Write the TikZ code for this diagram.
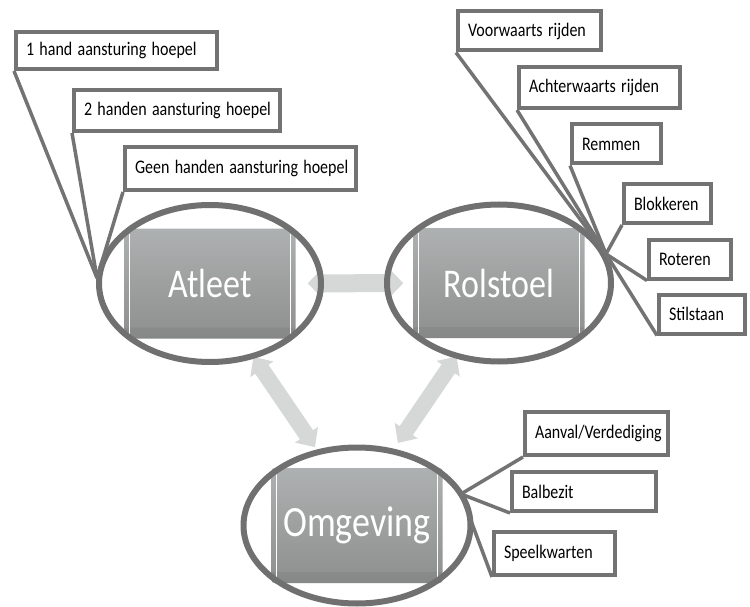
\documentclass[tikz,border=0pt]{standalone}
\usepackage{fontspec}
\usepackage{graphicx}
\setmainfont{Carlito}
\usetikzlibrary{arrows.meta,shapes.geometric}
\definecolor{ringgray}{RGB}{112,112,112}
\definecolor{boxgray}{RGB}{115,115,115}
\definecolor{keytop}{RGB}{174,177,177}
\definecolor{keybottom}{RGB}{142,143,143}
\definecolor{arrowgray}{RGB}{214,216,216}
\newcommand{\tall}[1]{\scalebox{1}[1.2]{#1}}

\begin{document}
\begin{tikzpicture}[x=1pt,y=-1pt,
  key/.style={rectangle,rounded corners=3pt,top color=keytop,bottom color=keybottom,minimum width=171pt,minimum height=110pt,text=white,font=\fontsize{34}{40}\selectfont,
    path picture={\fill[black,opacity=0.05] (path picture bounding box.south west) rectangle ([yshift=11pt]path picture bounding box.south east);
      \draw[white,line width=1.5pt] ([xshift=5pt,yshift=5pt]path picture bounding box.south west) -- ([xshift=5pt,yshift=-5pt]path picture bounding box.north west);
      \draw[white,line width=1.5pt] ([xshift=-5pt,yshift=5pt]path picture bounding box.south east) -- ([xshift=-5pt,yshift=-5pt]path picture bounding box.north east);}},
  ring/.style={ellipse,draw=ringgray,line width=6pt,inner sep=0pt},
  item/.style={rectangle,draw=boxgray,line width=4pt,fill=white,align=left,inner xsep=10pt,minimum height=39pt,font=\fontsize{16}{19}\selectfont},
  pointer/.style={draw=boxgray,line width=3.5pt},
  link/.style={draw=arrowgray,{Triangle[width=30pt,length=15pt]}-{Triangle[width=30pt,length=15pt]}}]
  \useasboundingbox (0,0) rectangle (750,607);

  % de drie hoofdblokken
  \node[key] (atleet) at (210,283.5) {\tall{Atleet}};
  \node[key] (rolstoel) at (499,283) {\tall{Rolstoel}};
  \node[key,minimum height=115pt,font=\fontsize{36}{42}\selectfont] (omgeving) at (357,525.5) {\tall{Omgeving}};

  % dubbele pijlen ertussen
  \draw[link,line width=18pt,shorten <=12pt,shorten >=10pt] (atleet) -- (rolstoel);
  \draw[link,line width=16pt,shorten <=22pt,shorten >=25pt,{Triangle[width=27pt,length=15pt]}-{Triangle[width=27pt,length=15pt]}] ([xshift=31pt]atleet.south) -- ([xshift=-28pt]omgeving.north);
  \draw[link,line width=16pt,shorten <=22pt,shorten >=30pt,{Triangle[width=27pt,length=15pt]}-{Triangle[width=27pt,length=15pt]}] ([xshift=-30pt]rolstoel.south) -- ([xshift=24pt]omgeving.north);

  \node[ring,minimum width=222pt,minimum height=157pt] (atleetring) at (atleet) {};
  \node[ring,minimum width=224pt,minimum height=157pt] (rolstoelring) at (rolstoel) {};
  \node[ring,minimum width=227pt,minimum height=156pt] (omgevingring) at (omgeving) {};

  \coordinate (atleettip) at (97,278);
  \coordinate (rolstoeltip) at (606,254);
  \coordinate (omgevingtip) at (461,494);

  % Atleet
  \node[item,text width=181pt,minimum height=37pt] (hand1) at (116.5,50.5) {\tall{1 hand aansturing hoepel}};
  \node[item,text width=186pt,minimum height=41pt] (hand2) at (177,110.5) {\tall{2 handen aansturing hoepel}};
  \node[item,text width=211pt,minimum height=43pt] (hand0) at (240.5,168.5) {\tall{Geen handen aansturing hoepel}};

  % Rolstoel
  \node[item,text width=123pt] (voorwaarts) at (529.5,31) {\tall{Voorwaarts rijden}};
  \node[item,text width=141pt,minimum height=41pt] (achterwaarts) at (599.5,87.5) {\tall{Achterwaarts rijden}};
  \node[item,text width=69pt] (remmen) at (616.5,144) {\tall{Remmen}};
  \node[item,text width=67pt] (blokkeren) at (667.5,203.5) {\tall{Blokkeren}};
  \node[item,text width=62pt] (roteren) at (690,259) {\tall{Roteren}};
  \node[item,text width=66pt] (stilstaan) at (702,314) {\tall{Stilstaan}};

  % Omgeving
  \node[item,text width=123pt,minimum height=43pt] (aanval) at (596.5,433.5) {\tall{Aanval/Verdediging}};
  \node[item,text width=124pt] (balbezit) at (584,491.5) {\tall{Balbezit}};
  \node[item,text width=101pt,minimum height=43pt] (speelkwarten) at (554.5,553.5) {\tall{Speelkwarten}};

  \foreach \n in {hand1,hand2,hand0}
    \draw[pointer] (\n.south west) -- (atleettip);
  \foreach \n in {voorwaarts,achterwaarts,remmen,blokkeren,roteren,stilstaan}
    \draw[pointer] (\n.south west) -- (rolstoeltip);
  \foreach \n in {aanval,balbezit,speelkwarten}
    \draw[pointer] (\n.south west) -- (omgevingtip);
\end{tikzpicture}
\end{document}
